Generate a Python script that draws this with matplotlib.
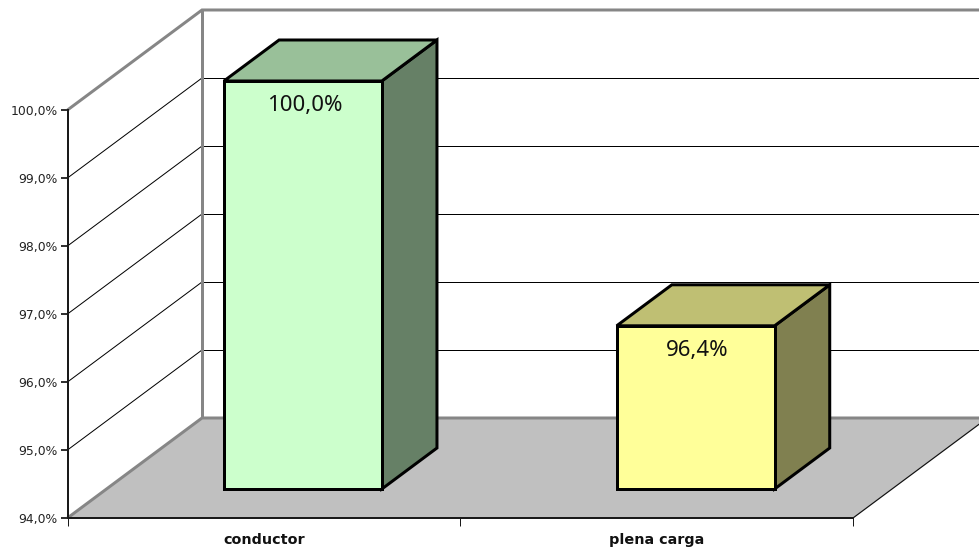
import matplotlib
matplotlib.use("Agg")
import matplotlib.pyplot as plt
from matplotlib.patches import Polygon
from matplotlib.ticker import FixedLocator, FuncFormatter, NullFormatter

categories = ["conductor", "plena carga"]
values = [100.0, 96.4]
y_ticks = [94, 95, 96, 97, 98, 99, 100]
front_colors = ["#CCFFCC", "#FFFF99"]
top_colors = ["#99C099", "#BFBF73"]
side_colors = ["#668066", "#808050"]

W, H = 979, 551
PX = 72 / 100
BASE = 94.0
TOP = 100.0
# oblique offset of the full chart depth, in data units
DEPTH_X = 134.5 / 392.75
DEPTH_Y = 100 / 68
BAR_WIDTH = 0.402
BAR_NEAR = 0.29
BAR_FAR = 0.70
WALL = "#868686"
INK = "#1a1a1a"


def project(x, y, d):
    """Oblique projection of a point at depth d (0 front, 1 back)."""
    return (x + d * DEPTH_X, y + d * DEPTH_Y)


fig = plt.figure(figsize=((W + 0.01) / 100, (H + 0.01) / 100), dpi=100, facecolor="white")
ax = fig.add_axes([67.5 / W, (H - 518) / H, 785.5 / W, 408 / H])
ax.set_xlim(0, 2)
ax.set_ylim(BASE, TOP)
ax.patch.set_visible(False)
for name in ("top", "right"):
    ax.spines[name].set_visible(False)
for name in ("left", "bottom"):
    ax.spines[name].set_color(INK)
    ax.spines[name].set_linewidth(2 * PX)
    ax.spines[name].set_zorder(6)

# axis ticks and labels
ax.yaxis.set_major_locator(FixedLocator(y_ticks))
ax.yaxis.set_major_formatter(FuncFormatter(lambda v, _: f"{v:.1f}%".replace(".", ",")))
ax.tick_params(axis="y", which="major", length=7 * PX, width=2 * PX, color="#333333",
               pad=3 * PX, labelsize=8.9, labelcolor="#222222")
ax.xaxis.set_major_locator(FixedLocator([0, 1, 2]))
ax.xaxis.set_major_formatter(NullFormatter())
ax.xaxis.set_minor_locator(FixedLocator([0.5, 1.5]))
ax.xaxis.set_minor_formatter(FuncFormatter(lambda v, _: categories[int(v)]))
ax.tick_params(axis="x", which="major", length=8 * PX, width=1 * PX, color=INK)
ax.tick_params(axis="x", which="minor", length=0, pad=15 * PX, labelsize=10.4)
for label in ax.get_xticklabels(minor=True):
    label.set_fontweight("bold")
    label.set_color("#111111")

# floor
ax.add_patch(Polygon([project(0, BASE, 0), project(2, BASE, 0),
                      project(2, BASE, 1), project(0, BASE, 1)],
                     closed=True, facecolor="#C0C0C0", edgecolor="none",
                     clip_on=False, zorder=1))

# gridlines: a slanted run on the side wall, a level run on the back wall
for tick in y_ticks[1:-1]:
    sx, sy = zip(project(0, tick, 0), project(0, tick, 1))
    ax.plot(sx, sy, color="black", lw=1 * PX, clip_on=False, zorder=2)
    bx, by = zip(project(0, tick, 1), project(2, tick, 1))
    ax.plot(bx, by, color="black", lw=1 * PX, clip_on=False, zorder=2, snap=True)

# right edge of the floor
rx, ry = zip(project(2, BASE, 0), project(2, BASE, 1))
ax.plot(rx, ry, color="#111111", lw=1.2 * PX, clip_on=False, zorder=2)

# wall outlines
outlines = [
    [project(0, TOP, 0), project(0, TOP, 1), project(2, TOP, 1)],
    [project(0, TOP, 1), project(0, BASE, 1)],
    [project(0, BASE, 0), project(0, BASE, 1), project(2, BASE, 1)],
]
for path in outlines:
    px_, py_ = zip(*path)
    ax.plot(px_, py_, color=WALL, lw=3 * PX, clip_on=False, zorder=3,
            solid_joinstyle="miter", solid_capstyle="butt")

# bars as three visible faces
for i, value in enumerate(values):
    left = i + 0.5 - BAR_WIDTH / 2
    right = i + 0.5 + BAR_WIDTH / 2
    front = [project(left, BASE, BAR_NEAR), project(right, BASE, BAR_NEAR),
             project(right, value, BAR_NEAR), project(left, value, BAR_NEAR)]
    side = [project(right, BASE, BAR_NEAR), project(right, BASE, BAR_FAR),
            project(right, value, BAR_FAR), project(right, value, BAR_NEAR)]
    top = [project(left, value, BAR_NEAR), project(right, value, BAR_NEAR),
           project(right, value, BAR_FAR), project(left, value, BAR_FAR)]
    for face, color in ((side, side_colors[i]), (top, top_colors[i]), (front, front_colors[i])):
        ax.add_patch(Polygon(face, closed=True, facecolor=color, edgecolor="black",
                             lw=3 * PX, joinstyle="miter", clip_on=False, zorder=4))
    label_x, label_y = project(i + 0.5, value, BAR_NEAR)
    ax.annotate(f"{value:.1f}%".replace(".", ","), (label_x, label_y),
                xytext=(2 * PX, -30 * PX), textcoords="offset points",
                ha="center", va="baseline", fontsize=16, family="Noto Sans",
                color="#111111", zorder=5, annotation_clip=False)

fig.savefig("out.png", dpi=100, facecolor="white")
